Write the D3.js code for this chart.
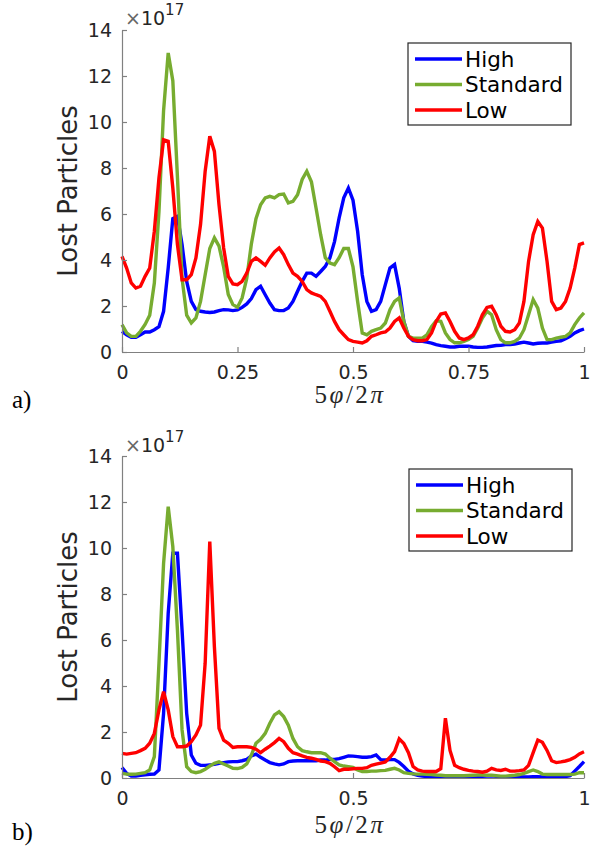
<!DOCTYPE html>
<html>
<head>
<meta charset="utf-8">
<script src="https://cdn.jsdelivr.net/npm/d3@7"></script>
<style>
  html, body { margin: 0; padding: 0; background: #fff; }
  svg { display: block; }
</style>
</head>
<body>
<div id="chart"></div>
<script>
// ---------------- DATA ----------------
const phase = [0,0.01,0.02,0.03,0.04,0.05,0.06,0.07,0.08,0.09,
  0.10,0.11,0.12,0.13,0.14,0.15,0.16,0.17,0.18,0.19,
  0.20,0.21,0.22,0.23,0.24,0.25,0.26,0.27,0.28,0.29,
  0.30,0.31,0.32,0.33,0.34,0.35,0.36,0.37,0.38,0.39,
  0.40,0.41,0.42,0.43,0.44,0.45,0.46,0.47,0.48,0.49,
  0.50,0.51,0.52,0.53,0.54,0.55,0.56,0.57,0.58,0.59,
  0.60,0.61,0.62,0.63,0.64,0.65,0.66,0.67,0.68,0.69,
  0.70,0.71,0.72,0.73,0.74,0.75,0.76,0.77,0.78,0.79,
  0.80,0.81,0.82,0.83,0.84,0.85,0.86,0.87,0.88,0.89,
  0.90,0.91,0.92,0.93,0.94,0.95,0.96,0.97,0.98,0.99,1.00];

// Panel a) values (x 1e17)
const aHigh = [0.9,0.75,0.64,0.64,0.75,0.87,0.87,0.97,1.1,1.77,
  3.65,5.8,5.9,4.67,3.07,2.2,1.84,1.77,1.74,1.72,
  1.74,1.8,1.84,1.83,1.8,1.83,1.94,2.09,2.32,2.71,
  2.86,2.49,2.13,1.84,1.8,1.8,1.91,2.2,2.64,3.07,
  3.43,3.43,3.29,3.5,3.72,4.09,4.8,5.83,6.7,7.13,
  6.6,5.25,3.36,2.2,1.77,1.84,2.2,2.93,3.65,3.8,
  2.78,1.33,0.68,0.49,0.46,0.46,0.43,0.39,0.32,0.28,
  0.25,0.22,0.22,0.25,0.25,0.25,0.22,0.2,0.2,0.22,
  0.25,0.28,0.29,0.32,0.32,0.35,0.39,0.43,0.39,0.35,
  0.38,0.39,0.39,0.43,0.46,0.49,0.58,0.68,0.83,0.93,1.0];
const aStandard = [1.19,0.83,0.68,0.68,0.9,1.2,1.6,3.0,6.1,10.5,
  13.0,11.8,7.6,3.2,1.6,1.26,1.48,2.2,3.36,4.5,
  4.96,4.6,3.7,2.5,2.06,1.95,2.35,3.2,4.7,5.8,
  6.4,6.7,6.77,6.7,6.84,6.87,6.48,6.55,6.84,7.5,
  7.86,7.4,6.26,5.1,4.1,3.87,3.8,4.1,4.5,4.5,
  3.7,2.2,0.83,0.75,0.9,0.97,1.04,1.26,1.84,2.2,
  2.35,1.33,0.68,0.6,0.6,0.6,0.75,1.1,1.36,1.33,
  0.83,0.54,0.4,0.4,0.46,0.54,0.68,1.04,1.48,1.77,
  1.62,0.97,0.54,0.4,0.4,0.46,0.6,0.97,1.62,2.28,
  1.91,1.04,0.54,0.54,0.6,0.64,0.68,0.83,1.19,1.48,1.7];
const aLow = [4.16,3.65,3.0,2.78,2.86,3.29,3.65,5.25,7.57,9.23,
  9.16,7.13,4.67,3.14,3.14,3.36,4.09,5.54,7.86,9.38,
  8.72,6.4,4.52,3.29,2.96,2.93,3.07,3.43,3.94,4.09,
  3.94,3.77,4.09,4.35,4.52,4.23,3.8,3.43,3.29,3.07,
  2.71,2.57,2.49,2.42,2.2,1.77,1.33,0.97,0.75,0.54,
  0.46,0.43,0.39,0.49,0.68,0.75,0.83,0.87,1.04,1.33,
  1.48,1.04,0.68,0.54,0.49,0.49,0.54,0.83,1.33,1.65,
  1.7,1.33,0.9,0.61,0.54,0.61,0.75,1.12,1.62,1.94,
  1.99,1.62,1.12,0.9,0.87,0.97,1.26,2.2,3.94,5.1,
  5.68,5.39,3.94,2.2,1.84,1.91,2.2,2.78,3.65,4.67,4.74];

// Panel b) values (x 1e17)
const bHigh = [0.46,0.2,0.09,0.09,0.12,0.14,0.16,0.17,0.35,2.81,
  7.16,9.77,9.77,6.43,2.81,1.0,0.64,0.55,0.55,0.57,
  0.59,0.64,0.67,0.7,0.71,0.71,0.75,0.81,0.96,1.04,
  0.9,0.78,0.67,0.61,0.57,0.61,0.71,0.74,0.75,0.75,
  0.75,0.75,0.75,0.78,0.78,0.81,0.81,0.84,0.9,0.96,
  0.95,0.93,0.9,0.9,0.93,1.0,0.8,0.78,0.8,0.8,
  0.68,0.5,0.3,0.18,0.12,0.08,0.06,0.05,0.05,0.06,
  0.06,0.05,0.05,0.06,0.06,0.05,0.05,0.06,0.07,0.08,
  0.1,0.07,0.06,0.05,0.05,0.06,0.06,0.05,0.05,0.06,
  0.06,0.05,0.05,0.05,0.06,0.06,0.06,0.1,0.3,0.5,0.71];
const bStandard = [0.2,0.17,0.16,0.17,0.2,0.23,0.35,0.93,4.99,9.33,
  11.8,10.06,6.43,2.09,0.49,0.28,0.23,0.28,0.38,0.52,
  0.64,0.7,0.61,0.52,0.42,0.41,0.46,0.61,1.0,1.51,
  1.68,1.94,2.38,2.74,2.88,2.67,2.3,1.72,1.36,1.19,
  1.14,1.1,1.1,1.1,1.04,0.86,0.71,0.57,0.52,0.49,
  0.46,0.35,0.28,0.28,0.3,0.3,0.32,0.33,0.38,0.42,
  0.35,0.23,0.2,0.18,0.17,0.17,0.16,0.15,0.13,0.12,
  0.1,0.1,0.1,0.1,0.1,0.11,0.12,0.13,0.13,0.12,
  0.12,0.1,0.08,0.08,0.1,0.12,0.15,0.2,0.28,0.35,
  0.28,0.17,0.15,0.15,0.15,0.15,0.15,0.15,0.17,0.23,0.23];
const bLow = [1.07,1.04,1.07,1.1,1.19,1.29,1.51,1.94,2.96,3.75,
  2.96,1.8,1.36,1.36,1.39,1.58,1.87,2.3,4.99,10.28,
  5.7,2.16,1.65,1.51,1.33,1.36,1.36,1.36,1.33,1.25,
  1.1,1.25,1.39,1.54,1.72,1.58,1.29,1.1,1.04,0.96,
  0.9,0.86,0.81,0.74,0.71,0.64,0.49,0.32,0.38,0.38,
  0.4,0.42,0.42,0.45,0.55,0.6,0.65,0.7,0.9,1.15,
  1.7,1.5,1.1,0.5,0.35,0.3,0.28,0.28,0.28,0.4,
  2.6,1.2,0.55,0.45,0.38,0.33,0.3,0.28,0.25,0.3,
  0.42,0.35,0.33,0.38,0.3,0.3,0.32,0.35,0.55,1.1,
  1.65,1.55,1.2,0.75,0.67,0.7,0.74,0.8,0.9,1.05,1.14];

const seriesNames = ["High", "Standard", "Low"];
const seriesColors = ["#0000ff", "#77ac30", "#ff0000"];
const yTicks = [0, 2, 4, 6, 8, 10, 12, 14];
const xTicksA = [0, 0.25, 0.5, 0.75, 1];
const xTicksB = [0, 0.5, 1];
const panelLabels = ["a)", "b)"];

// ---------------- DRAW ----------------
const W = 600, H = 850;
const svg = d3.select("#chart").append("svg")
  .attr("width", W).attr("height", H)
  .style("background", "#fff");

const AXIS_COLOR = "#808080";
const TEXT_COLOR = "#262626";
const SANS = "DejaVu Sans, sans-serif";
const SERIF = "Liberation Serif, DejaVu Serif, serif";

function drawPanel(cfg) {
  const x = d3.scaleLinear().domain([0, 1]).range([cfg.left, cfg.right]);
  const y = d3.scaleLinear().domain([0, 14]).range([cfg.bottom, cfg.top]);
  const g = svg.append("g");

  // lines
  const line = d3.line().x((d) => x(d[0])).y((d) => y(d[1]));
  cfg.series.forEach((vals, i) => {
    g.append("path")
      .datum(phase.map((p, k) => [p, vals[k]]))
      .attr("d", line)
      .attr("fill", "none")
      .attr("stroke", seriesColors[i])
      .attr("stroke-width", 3.4)
      .attr("stroke-linejoin", "miter")
      .attr("stroke-miterlimit", 3);
  });

  // axes
  const xAxis = d3.axisBottom(x).tickValues(cfg.xTicks)
    .tickFormat((d) => String(d))
    .tickSizeInner(-5).tickSizeOuter(0).tickPadding(14);
  const gx = g.append("g").attr("transform", `translate(0,${cfg.bottom})`).call(xAxis);
  const yAxis = d3.axisLeft(y).tickValues(yTicks)
    .tickFormat((d) => String(d))
    .tickSizeInner(-5).tickSizeOuter(0).tickPadding(10);
  const gy = g.append("g").attr("transform", `translate(${cfg.left},0)`).call(yAxis);

  [gx, gy].forEach((ax) => {
    ax.select(".domain").attr("stroke", AXIS_COLOR).attr("stroke-width", 1.2);
    ax.selectAll(".tick line").attr("stroke", AXIS_COLOR).attr("stroke-width", 1.2);
    ax.selectAll(".tick text")
      .attr("fill", TEXT_COLOR)
      .style("font-family", SANS)
      .style("font-size", "19px");
  });

  // y label
  g.append("text")
    .attr("transform", `translate(76.5,${(cfg.top + cfg.bottom) / 2}) rotate(-90)`)
    .attr("text-anchor", "middle")
    .attr("fill", TEXT_COLOR)
    .style("font-family", SANS)
    .style("font-size", "26px")
    .text("Lost Particles");

  // exponent label
  const ex = g.append("text")
    .attr("x", cfg.left + 3)
    .attr("y", cfg.expBase)
    .style("font-family", SANS)
    .attr("fill", TEXT_COLOR);
  ex.append("tspan").attr("fill", "#666").style("font-size", "19px").text("×");
  ex.append("tspan").style("font-size", "19px").text("10");
  ex.append("tspan").attr("dy", -10).style("font-size", "15px").text("17");

  // x label 5φ/2π
  const xl = g.append("text")
    .attr("x", (cfg.left + cfg.right) / 2 - 3)
    .attr("y", cfg.xlabBase)
    .attr("text-anchor", "middle")
    .attr("fill", TEXT_COLOR)
    .style("font-family", SERIF)
    .style("font-size", "25px")
    .style("letter-spacing", "2.5px");
  xl.append("tspan").text("5");
  xl.append("tspan").style("font-style", "italic").text("φ");
  xl.append("tspan").text("/2");
  xl.append("tspan").style("font-style", "italic").text("π");

  // panel label
  g.append("text")
    .attr("x", 12)
    .attr("y", cfg.panelBase)
    .attr("fill", "#000")
    .style("font-family", SERIF)
    .style("font-size", "25px")
    .text(cfg.panelLabel);

  // legend
  const lg = g.append("g");
  lg.append("rect")
    .attr("x", cfg.legX).attr("y", cfg.legY)
    .attr("width", 163).attr("height", 82)
    .attr("fill", "#fff")
    .attr("stroke", "#262626").attr("stroke-width", 1.2);
  seriesNames.forEach((name, i) => {
    const cy = cfg.legY + 16 + i * 25.5;
    lg.append("line")
      .attr("x1", cfg.legX + 7).attr("x2", cfg.legX + 54)
      .attr("y1", cy).attr("y2", cy)
      .attr("stroke", seriesColors[i]).attr("stroke-width", 3.4);
    lg.append("text")
      .attr("x", cfg.legX + 57).attr("y", cy + 7.5)
      .attr("fill", "#000")
      .style("font-family", SANS)
      .style("font-size", "21.5px")
      .text(name);
  });
}

drawPanel({
  left: 122, right: 584, top: 30, bottom: 352,
  series: [aHigh, aStandard, aLow],
  xTicks: xTicksA,
  expBase: 25, xlabBase: 403, panelBase: 408,
  panelLabel: panelLabels[0],
  legX: 408, legY: 43
});

drawPanel({
  left: 122, right: 584, top: 456, bottom: 778,
  series: [bHigh, bStandard, bLow],
  xTicks: xTicksB,
  expBase: 452, xlabBase: 833, panelBase: 840,
  panelLabel: panelLabels[1],
  legX: 409, legY: 469
});
</script>
</body>
</html>
